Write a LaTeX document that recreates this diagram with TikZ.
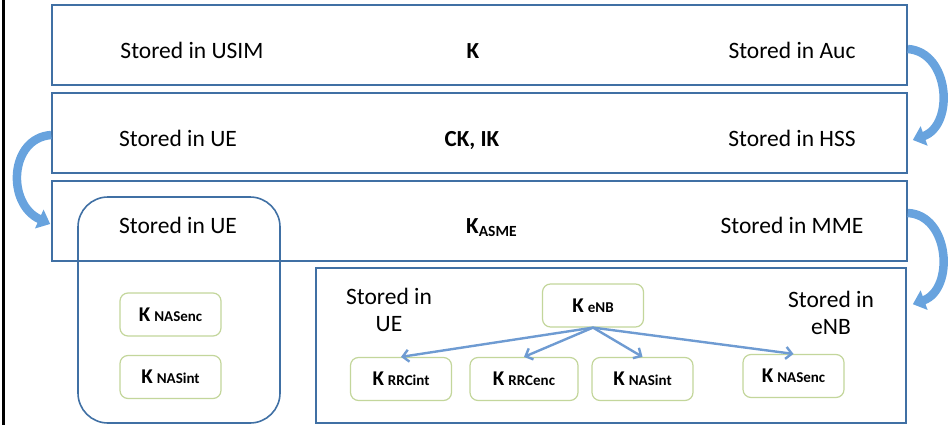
\documentclass[tikz,border=0pt]{standalone}
\usepackage{fontspec}
\setmainfont{Carlito}
\usetikzlibrary{arrows.meta}

\definecolor{layerblue}{RGB}{64,112,164}
\definecolor{keygreen}{RGB}{195,214,155}
\definecolor{linkblue}{RGB}{110,155,210}
\definecolor{bendblue}{RGB}{104,163,222}

\newcommand{\keysub}[1]{\textbf{K}\hspace{4pt}{\fontsize{15}{18}\selectfont\bfseries #1}}

\begin{document}
\begin{tikzpicture}[x=1pt, y=-1pt,
	layer/.style={draw=layerblue, line width=1.6pt, minimum width=855pt, minimum height=80pt, inner sep=0pt},
	txt/.style={font=\fontsize{23.5}{28}\selectfont, inner sep=0pt, anchor=base},
	bold/.style={font=\fontsize{23}{28}\selectfont\bfseries, inner sep=0pt, anchor=base},
	keybox/.style={draw=keygreen, line width=1.2pt, rounded corners=8pt, fill=white, minimum width=101pt, minimum height=43pt, inner sep=0pt, font=\fontsize{21}{24}\selectfont},
	link/.style={draw=linkblue, line width=2.4pt, -{Straight Barb[length=6pt,width=12pt]}},
	handover/.style={draw=bendblue, line width=8.5pt, -{Triangle[length=12pt,width=20pt]}}]
	\useasboundingbox (0,0) rectangle (949,425);
	\draw[line width=2.5pt] (3.5,0) -- (3.5,425);
	% three stacked layers
	\node[layer] (r1) at (479.5,45)  {};
	\node[layer] (r2) at (479.5,133) {};
	\node[layer] (r3) at (479.5,221) {};
	\node[txt]  (usim) at (192,58.3)  {Stored in USIM};
	\node[bold] (k)    at (473,59)    {K};
	\node[txt]  (auc)  at (792,58.3)  {Stored in Auc};
	\node[txt]  (ue1)  at (178,146.7) {Stored in UE};
	\node[bold] (ckik) at (472,146.7) {CK, IK};
	\node[txt]  (hss)  at (792,146.7) {Stored in HSS};
	\node[txt]  (ue2)  at (178,233.3) {Stored in UE};
	\node[font=\fontsize{23}{28}\selectfont\bfseries, inner sep=0pt, anchor=base west] (kasme) at (466,233.3)
		{K\raisebox{-3pt}{\fontsize{15.5}{18}\selectfont ASME}};
	\node[txt]  (mme)  at (792,233.3) {Stored in MME};
	% UE side
	\node[draw=layerblue, line width=1.6pt, rounded corners=30pt, minimum width=202pt, minimum height=226pt] (uebox) at (179,310) {};
	\node[keybox] (uenasenc) at (170.5,314.5) {\keysub{NASenc}};
	\node[keybox] (uenasint) at (170.5,377)   {\keysub{NASint}};
	% eNB side
	\node[draw=layerblue, line width=1.6pt, minimum width=590pt, minimum height=155pt, inner sep=0pt] (enbbox) at (611,345.5) {};
	\node[font=\fontsize{23.5}{27}\selectfont, align=center, inner sep=0pt] (ue3) at (389,310) {Stored in\\UE};
	\node[font=\fontsize{23.5}{27}\selectfont, align=center, inner sep=0pt] (enbt) at (831,313) {Stored in\\eNB};
	\node[keybox] (enb)    at (593,305.5) {\keysub{eNB}};
	\node[keybox] (rrcint) at (401,379)   {\keysub{RRCint}};
	\node[keybox, minimum width=108pt] (rrcenc) at (524,379) {\keysub{RRCenc}};
	\node[keybox] (nasint) at (642.5,379) {\keysub{NASint}};
	\node[keybox] (nasenc) at (793.5,376) {\keysub{NASenc}};
	\foreach \to in {rrcint, rrcenc, nasint, nasenc}
	\draw[link] (enb.south) -- (\to.north);
	% curved hand-over arrows
	\draw[handover] ([yshift=-4pt]r1.east) .. controls +(42,3) and +(42,-15) .. ([xshift=5pt,yshift=-7pt]r2.east);
	\draw[handover] ([yshift=-2pt]r2.west) .. controls +(-42,3) and +(-44,-20) .. ([xshift=-1pt,yshift=-3pt]r3.west);
	\draw[handover] ([yshift=8pt]r3.east) .. controls +(42,2) and +(42,-15) .. ([xshift=6pt,yshift=-37pt]enbbox.north east);
\end{tikzpicture}
\end{document}
